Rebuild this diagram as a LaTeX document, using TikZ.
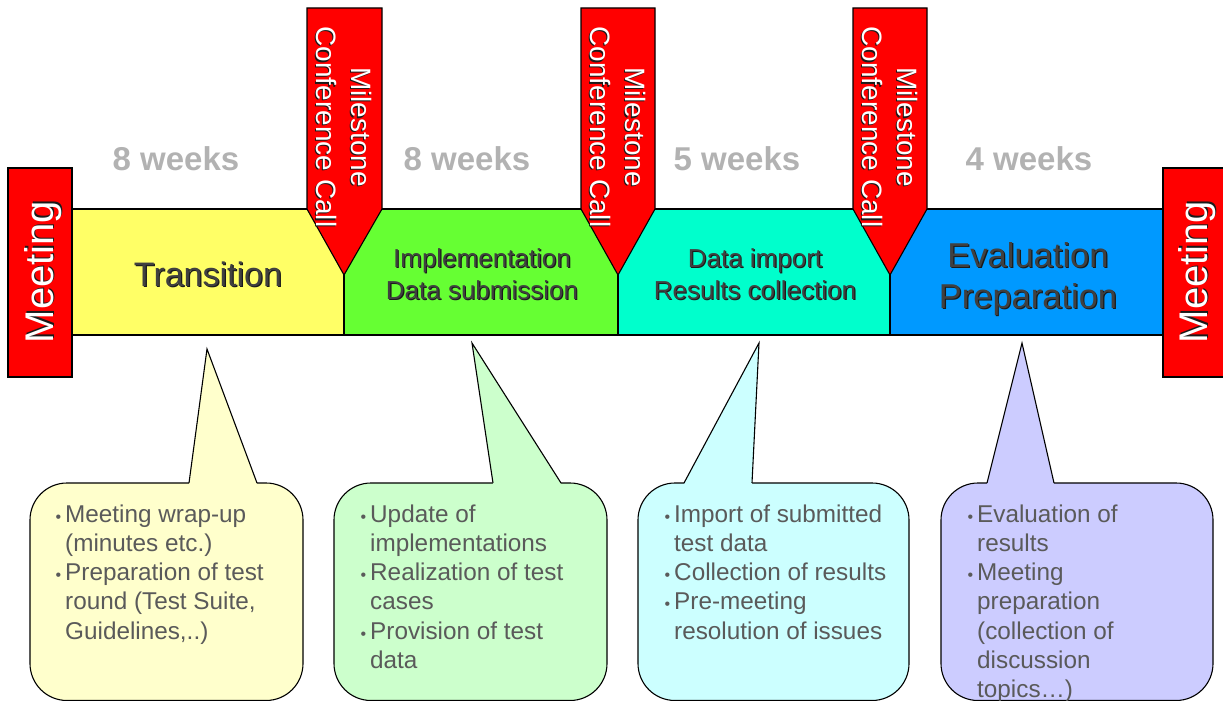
\documentclass[tikz,border=0pt]{standalone}
\usepackage{fontspec}
\setmainfont{Liberation Sans}
\usepackage{xcolor}
\usepackage{tikz}
\definecolor{mtgred}{HTML}{FF0000}
\definecolor{phaseyellow}{HTML}{FFFF66}
\definecolor{phasegreen}{HTML}{66FF33}
\definecolor{phasecyan}{HTML}{00FFCC}
\definecolor{phaseblue}{HTML}{0099FF}
\definecolor{bubyellow}{HTML}{FFFFCC}
\definecolor{bubgreen}{HTML}{CCFFCC}
\definecolor{bubcyan}{HTML}{CCFFFF}
\definecolor{bubpurple}{HTML}{CCCCFF}
\definecolor{weekgray}{HTML}{B2B2B2}
\definecolor{labelgray}{HTML}{404040}
\definecolor{notegray}{HTML}{5A5A5A}
\definecolor{shadowgray}{HTML}{1A1A1A}
\newcommand{\notebullet}{\llap{{\fontsize{16}{16}\selectfont\textbullet}\hspace{4pt}}}
\tikzset{
  red box/.style={draw=black, fill=mtgred, line width=1.1pt},
  band/.style={draw=black, line width=1.1pt},
  bubble/.style={draw=black, line width=1.1pt},
  meeting text/.style={text=white, rotate=90, font=\fontsize{40}{48}\selectfont},
  call text/.style={text=white, rotate=-90, align=center, font=\fontsize{28}{35}\selectfont},
  weeks text/.style={text=weekgray, font=\bfseries\fontsize{33}{40}\selectfont},
  phase text/.style={text=labelgray, align=center},
  text shadow/.style={text=shadowgray},
  note text/.style={text=notegray, align=left, anchor=north west, inner sep=0pt, font=\fontsize{24.3}{29.2}\selectfont},
}
\begin{document}
\begin{tikzpicture}[x=1pt, y=-1pt]
                \useasboundingbox (0,0) rectangle (1223,701);
                \draw[band, fill=phaseyellow] (72,209) rectangle (344,335);
                \draw[band, fill=phasegreen] (344,209) rectangle (618,335);
                \draw[band, fill=phasecyan] (618,209) rectangle (890,335);
                \draw[band, fill=phaseblue] (890,209) rectangle (1163,335);
                \draw[red box] (307,8) -- (382,8) -- (382,209) -- (344,275) -- (307,209) -- cycle;
                \draw[red box] (581,8) -- (655,8) -- (655,209) -- (618,275) -- (581,209) -- cycle;
                \draw[red box] (853,8) -- (927,8) -- (927,209) -- (890,275) -- (853,209) -- cycle;
                \draw[red box] (8,168) rectangle (72,377);
                \draw[red box] (1163,168) rectangle (1226,377);
                \node[meeting text, text shadow] (meetLs) at (44.3,270.7) {Meeting};
                \node[meeting text] (meetL) at (43,272) {Meeting};
                \node[meeting text, text shadow] (meetRs) at (1198.3,270.7) {Meeting};
                \node[meeting text] (meetR) at (1197,272) {Meeting};
                \node[call text, text shadow] (call1s) at (342.8,128.2) {Milestone\\Conference Call};
                \node[call text] (call1) at (344,127) {Milestone\\Conference Call};
                \node[call text, text shadow] (call2s) at (616.8,128.2) {Milestone\\Conference Call};
                \node[call text] (call2) at (618,127) {Milestone\\Conference Call};
                \node[call text, text shadow] (call3s) at (888.8,128.2) {Milestone\\Conference Call};
                \node[call text] (call3) at (890,127) {Milestone\\Conference Call};
                \node[weeks text] (wk1) at (176,159) {8 weeks};
                \node[weeks text] (wk2) at (467,159) {8 weeks};
                \node[weeks text] (wk3) at (737,159) {5 weeks};
                \node[weeks text] (wk4) at (1029,159) {4 weeks};
                \node[phase text, text shadow, font=\fontsize{34}{41}\selectfont] (transitions) at (209.2,275.7) {Transition};
                \node[phase text, font=\fontsize{34}{41}\selectfont] (transition) at (208,274.5) {Transition};
                \node[phase text, text shadow, font=\fontsize{26}{32}\selectfont] (implements) at (483.1,275.1) {Implementation\\Data submission};
                \node[phase text, font=\fontsize{26}{32}\selectfont] (implement) at (482,274) {Implementation\\Data submission};
                \node[phase text, text shadow, font=\fontsize{26}{32}\selectfont] (imports) at (756.1,275.1) {Data import\\Results collection};
                \node[phase text, font=\fontsize{26}{32}\selectfont] (import) at (755,274) {Data import\\Results collection};
                \node[phase text, text shadow, font=\fontsize{34.5}{41}\selectfont] (evaluates) at (1029.2,280.2) {Evaluation\\Preparation};
                \node[phase text, font=\fontsize{34.5}{41}\selectfont] (evaluate) at (1028,279) {Evaluation\\Preparation};
                \fill[bubble, fill=bubyellow, rounded corners=37pt] (30,483) rectangle (303,700.5);
                \fill[bubyellow] (189,484) -- (207,349) -- (257,484) -- cycle;
                \draw[bubble] (189,483) -- (207,349) -- (257,483);
                \fill[bubble, fill=bubgreen, rounded corners=37pt] (334,483) rectangle (607,700.5);
                \fill[bubgreen] (493,484) -- (472,343) -- (561,484) -- cycle;
                \draw[bubble] (493,483) -- (472,343) -- (561,483);
                \fill[bubble, fill=bubcyan, rounded corners=37pt] (638,483) rectangle (909,700.5);
                \fill[bubcyan] (684,484) -- (759,343) -- (752,484) -- cycle;
                \draw[bubble] (684,483) -- (759,343) -- (752,483);
                \fill[bubble, fill=bubpurple, rounded corners=37pt] (941,483) rectangle (1213,700.5);
                \fill[bubpurple] (987,484) -- (1022,343) -- (1054,484) -- cycle;
                \draw[bubble] (987,483) -- (1022,343) -- (1054,483);
                \node[note text] (note1) at (65,504.5) {\notebullet Meeting wrap-up\\(minutes etc.)\\\notebullet Preparation of test\\round (Test Suite,\\Guidelines,..)};
                \node[note text] (note2) at (370,504.5) {\notebullet Update of\\implementations\\\notebullet Realization of test\\cases\\\notebullet Provision of test\\data};
                \node[note text] (note3) at (674,504.5) {\notebullet Import of submitted\\test data\\\notebullet Collection of results\\\notebullet Pre-meeting\\resolution of issues};
                \node[note text] (note4) at (977,504.5) {\notebullet Evaluation of\\results\\\notebullet Meeting\\preparation\\(collection of\\discussion\\topics…)};
            \end{tikzpicture}
\end{document}
